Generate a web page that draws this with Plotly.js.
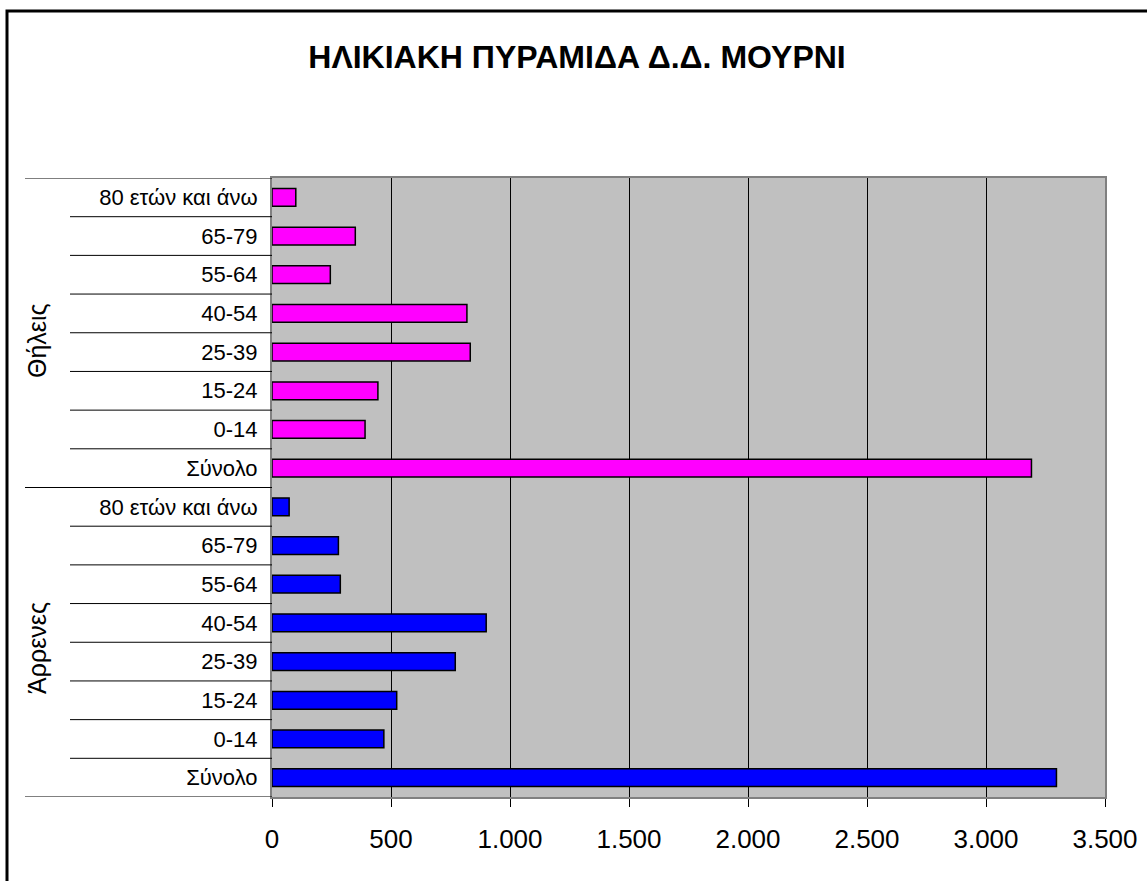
<!DOCTYPE html>
<html>
<head>
<meta charset="utf-8">
<script src="https://cdn.plot.ly/plotly-3.0.1.min.js"></script>
<style>
html,body{margin:0;padding:0;background:#fff;}
#chart{width:1147px;height:881px;}
</style>
</head>
<body>
<div id="chart"></div>
<script>
// Data
var ageGroups = ["Σύνολο", "0-14", "15-24", "25-39", "40-54", "55-64", "65-79", "80 ετών και άνω"];
var maleLabel = "Άρρενες";
var femaleLabel = "Θήλεις";
var maleValues = [3296, 470, 524, 770, 900, 287, 279, 72];
var femaleValues = [3191, 391, 445, 833, 819, 245, 350, 100];
var xTicks = [0, 500, 1000, 1500, 2000, 2500, 3000, 3500];
var chartTitle = "ΗΛΙΚΙΑΚΗ ΠΥΡΑΜΙΔΑ Δ.Δ. ΜΟΥΡΝΙ";

var n = ageGroups.length;
var maleY = ageGroups.map(function(_, i){ return i; });
var femaleY = ageGroups.map(function(_, i){ return i + n; });
var tickVals = maleY.concat(femaleY);
var tickText = ageGroups.concat(ageGroups);

var FONT = 'Arial, Liberation Sans, sans-serif';

var traces = [
  {type:'bar', orientation:'h', name:maleLabel, x:maleValues, y:maleY,
   marker:{color:'#0000FF', line:{color:'#000000', width:1.5}}, hoverinfo:'x'},
  {type:'bar', orientation:'h', name:femaleLabel, x:femaleValues, y:femaleY,
   marker:{color:'#FF00FF', line:{color:'#000000', width:1.5}}, hoverinfo:'x'}
];

// Plot geometry in pixels (for paper-coordinate conversions of decorations)
var L = 272, R = 1105, T = 178, B = 797;
function px2paperX(px){ return (px - L) / (R - L); }
function px2paperY(py){ return (B - py) / (B - T); }

var shapes = [];
// group boundaries
[-0.5, n - 0.5, 2*n - 0.5].forEach(function(yv){
  shapes.push({type:'line', xref:'paper', yref:'y', x0:px2paperX(25), x1:0, y0:yv, y1:yv,
    line:{color:'#000', width:1}});
});
// category separators
for (var i = 0; i < 2*n - 1; i++) {
  if (i === n - 1) continue;
  shapes.push({type:'line', xref:'paper', yref:'y', x0:px2paperX(70), x1:0, y0:i+0.5, y1:i+0.5,
    line:{color:'#000', width:1}});
}
// outer chart border
shapes.push({type:'rect', xref:'paper', yref:'paper',
  x0:px2paperX(7), x1:px2paperX(1200), y0:px2paperY(950), y1:px2paperY(11),
  line:{color:'#000', width:3}, fillcolor:'rgba(0,0,0,0)', layer:'above'});

var annotations = [
  {xref:'paper', yref:'paper', x:px2paperX(37), y:px2paperY(648), xanchor:'center', yanchor:'middle',
   text:maleLabel, showarrow:false, textangle:-90, font:{family:FONT, size:25, color:'#000'}},
  {xref:'paper', yref:'paper', x:px2paperX(37), y:px2paperY(341), xanchor:'center', yanchor:'middle',
   text:femaleLabel, showarrow:false, textangle:-90, font:{family:FONT, size:25, color:'#000'}}
];

var layout = {
  width:1147, height:881,
  margin:{l:L, r:1147-R, t:T, b:881-B, pad:0},
  paper_bgcolor:'#ffffff',
  plot_bgcolor:'#C0C0C0',
  separators:',.',
  showlegend:false,
  barmode:'overlay',
  bargap:0.54,
  font:{family:FONT, size:20, color:'#000'},
  title:{text:'<b>'+chartTitle+'</b>', x:577/1147, xref:'container', xanchor:'center',
    y:1-(57/881), yref:'container', yanchor:'middle',
    font:{family:FONT, size:32, color:'#000'}},
  xaxis:{range:[0, 3500], tickvals:xTicks, tickformat:',d', separatethousands:true,
    showgrid:true, gridcolor:'#000', gridwidth:1, zeroline:false,
    showline:true, linecolor:'#808080', linewidth:2, mirror:true,
    ticks:'outside', ticklen:8, tickcolor:'#000', tickwidth:1,
    ticklabelstandoff:10, fixedrange:true,
    tickfont:{family:FONT, size:26}},
  yaxis:{range:[-0.5, 2*n - 0.5], tickvals:tickVals, ticktext:tickText,
    showgrid:false, zeroline:false,
    showline:true, linecolor:'#808080', linewidth:2, mirror:true,
    ticks:'', ticklabelstandoff:8, fixedrange:true,
    tickfont:{family:FONT, size:22}},
  shapes:shapes,
  annotations:annotations
};

Plotly.newPlot('chart', traces, layout, {displayModeBar:false, staticPlot:true});
</script>
</body>
</html>
